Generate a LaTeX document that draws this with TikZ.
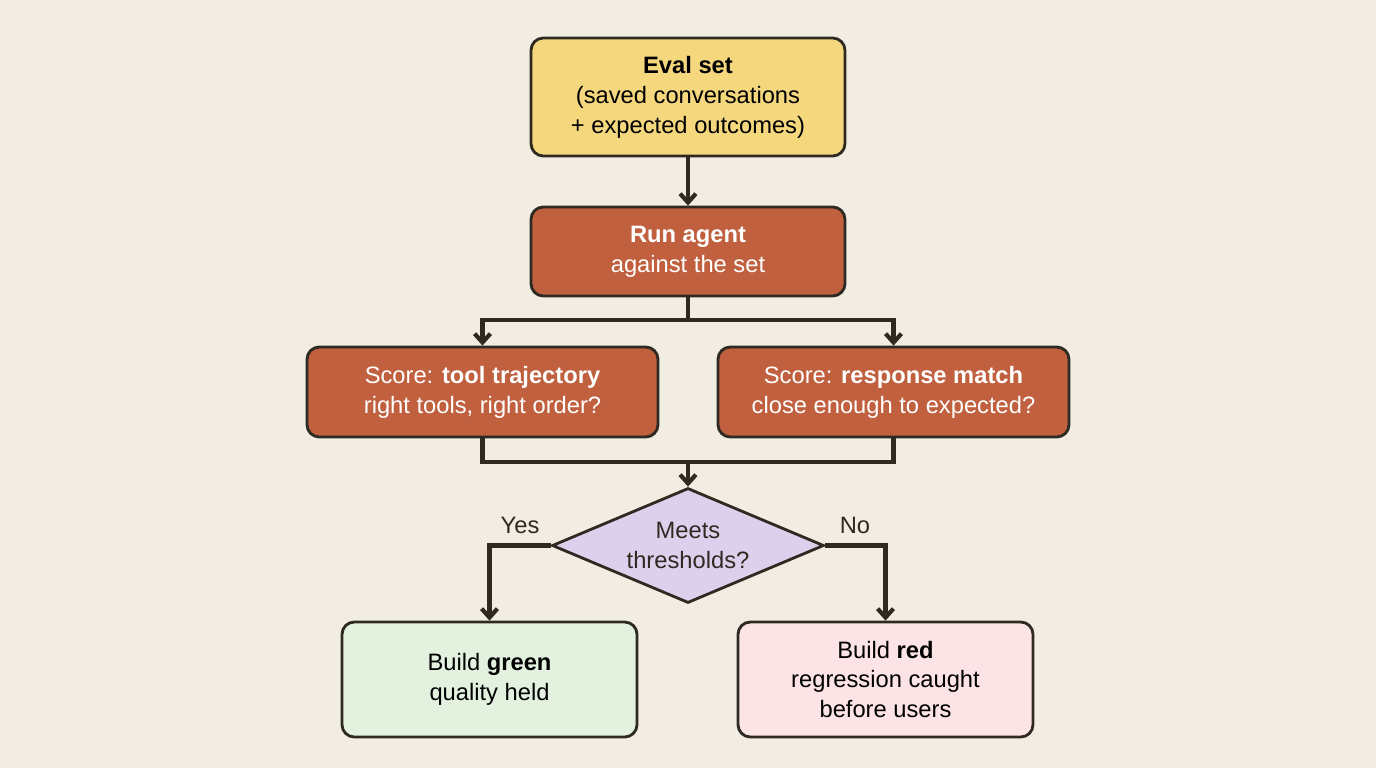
\documentclass[tikz,border=0pt]{standalone}
\usepackage{fontspec}
\setmainfont{Liberation Sans}
\usetikzlibrary{shapes.geometric,arrows.meta}
\definecolor{bg}{HTML}{F2EDE2}
\definecolor{line}{HTML}{2E2A22}
\definecolor{yel}{HTML}{F5D77E}
\definecolor{rust}{HTML}{C0603F}
\definecolor{lav}{HTML}{DCD0EC}
\definecolor{grn}{HTML}{E2F2DF}
\definecolor{pnk}{HTML}{FCE4E6}
\begin{document}
\begin{tikzpicture}[x=0.02cm,y=-0.02cm,
 box/.style={draw=line,line width=1.6pt,rounded corners=7pt,align=center,inner sep=0pt,font=\fontsize{13.5}{17}\selectfont},
 rbox/.style={box,fill=rust,text=white},
 conn/.style={draw=line,line width=2.4pt},
 arr/.style={conn,-{Straight Barb[length=5pt,width=9pt]}},
 lbl/.style={font=\fontsize{13.5}{17}\selectfont,text=line}]
\fill[bg] (0,0) rectangle (1376,768);
\node[box,fill=yel,minimum width=314*0.02cm,minimum height=118*0.02cm] (eval) at (688,97) {\textbf{Eval set}\\(saved conversations\\+ expected outcomes)};
\node[rbox,minimum width=314*0.02cm,minimum height=89*0.02cm] (run) at (688,251.5) {\textbf{Run agent}\\against the set};
\node[rbox,minimum width=351*0.02cm,minimum height=90*0.02cm] (tool) at (482.5,392) {Score: \textbf{tool trajectory}\\right tools, right order?};
\node[rbox,minimum width=351*0.02cm,minimum height=90*0.02cm] (resp) at (893.5,392) {Score: \textbf{response match}\\close enough to expected?};
\node[box,diamond,rounded corners=0pt,fill=lav,minimum width=272*0.02cm,minimum height=115*0.02cm,aspect=2.4] (dec) at (688,545.5) {};
\node[lbl,align=center] at (688,545.5) {Meets\\thresholds?};
\node[box,fill=grn,minimum width=295*0.02cm,minimum height=115*0.02cm] (green) at (489.5,679.5) {Build \textbf{green}\\quality held};
\node[box,fill=pnk,minimum width=295*0.02cm,minimum height=115*0.02cm] (red) at (885.5,679.5) {Build \textbf{red}\\regression caught\\before users};
\coordinate (s) at (688,320);
\coordinate (m) at (688,462);
\draw[arr] (eval) -- (run);
\draw[conn] (run) -- (s);
\draw[arr] (s) -| (tool.north);
\draw[arr] (s) -| (resp.north);
\draw[conn] (tool.south) |- (m);
\draw[conn] (resp.south) |- (m);
\draw[arr] (m) -- (dec.north);
\draw[arr] (dec.west) -| (green.north);
\draw[arr] (dec.east) -| (red.north);
\node[lbl] at (520,525) {Yes};
\node[lbl] at (855,525) {No};
\end{tikzpicture}
\end{document}
